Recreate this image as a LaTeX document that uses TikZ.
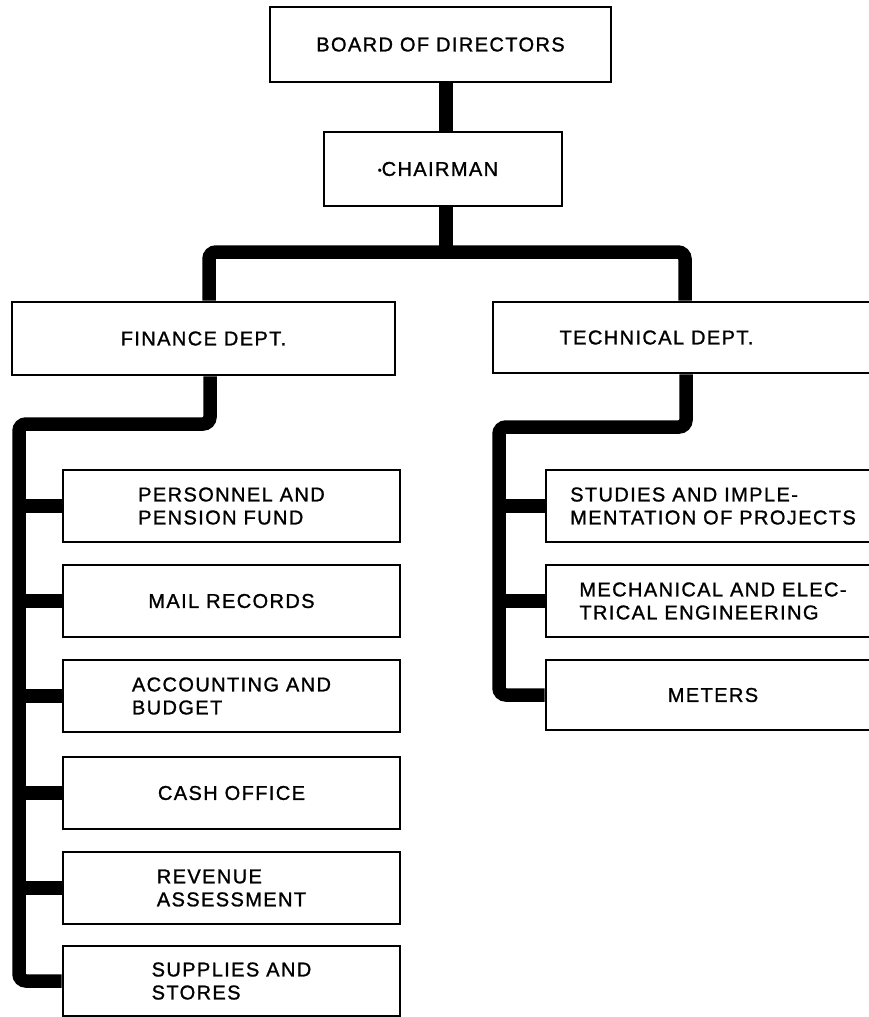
\documentclass[tikz,border=0pt]{standalone}
\usepackage{fontspec}
\setmainfont{Liberation Sans}[LetterSpace=7.0, FakeBold=1.2]
\begin{document}
\begin{tikzpicture}[x=1pt,y=-1pt,
  orgbox/.style={draw, line width=2.8pt, inner sep=0pt, align=left,
    font=\fontsize{20}{23}\selectfont},
  conn/.style={line width=13.5pt, rounded corners=7pt}]
\useasboundingbox (0,0) rectangle (869,1017);
\clip (0,0) rectangle (869,1017);
% top level
\node[orgbox, minimum width=341pt, minimum height=75pt] (board) at (440.5,44.5) {BOARD OF DIRECTORS};
\node[orgbox, minimum width=238pt, minimum height=74pt] (chair) at (443,169) {{\fontsize{11}{11}\selectfont\raisebox{2pt}{•}}CHAIRMAN\hspace*{10pt}};
\node[orgbox, minimum width=383pt, minimum height=73pt] (fin) at (203.5,338.5) {FINANCE DEPT.};
\node[orgbox, minimum width=387pt, minimum height=71pt] (tech) at (686.5,337.5) {TECHNICAL DEPT.\hspace*{60pt}};
% finance sub-units
\node[orgbox, minimum width=337pt, minimum height=72pt] (pers) at (231.5,506) {PERSONNEL AND\\PENSION FUND};
\node[orgbox, minimum width=337pt, minimum height=72pt] (mail) at (231.5,601) {MAIL RECORDS};
\node[orgbox, minimum width=337pt, minimum height=72pt] (acct) at (231.5,696) {ACCOUNTING AND\\BUDGET};
\node[orgbox, minimum width=337pt, minimum height=72pt] (cash) at (231.5,793) {CASH OFFICE};
\node[orgbox, minimum width=337pt, minimum height=72pt] (rev) at (231.5,888) {REVENUE\\ASSESSMENT};
\node[orgbox, minimum width=337pt, minimum height=70pt] (sup) at (231.5,981) {SUPPLIES AND\\STORES};
% technical sub-units
\node[orgbox, minimum width=334pt, minimum height=72pt] (stud) at (713,506) {STUDIES AND IMPLE-\\MENTATION OF PROJECTS};
\node[orgbox, minimum width=334pt, minimum height=72pt] (mech) at (713,601) {MECHANICAL AND ELEC-\\TRICAL ENGINEERING};
\node[orgbox, minimum width=334pt, minimum height=70pt] (met) at (713,695) {METERS};
% connector coordinates
\coordinate (trunk) at (446,0);
\coordinate (barL) at (209,252);
\coordinate (barR) at (685,252);
\coordinate (fdown) at (210,424);
\coordinate (fleft) at (19,424);
\coordinate (tdown) at (686,427);
\coordinate (tleft) at (499,427);
% connectors
\draw[conn] (board.south -| trunk) -- (chair.north -| trunk);
\draw[conn] (chair.south -| trunk) -- (trunk |- barL);
\draw[conn] (fin.north -| barL) -- (barL) -- (barR) -- (tech.north -| barR);
\draw[conn] (fin.south -| fdown) -- (fdown) -- (fleft) -- (fleft |- sup.west) -- (sup.west);
\draw[conn] (fleft |- pers.west) -- (pers.west);
\draw[conn] (fleft |- mail.west) -- (mail.west);
\draw[conn] (fleft |- acct.west) -- (acct.west);
\draw[conn] (fleft |- cash.west) -- (cash.west);
\draw[conn] (fleft |- rev.west) -- (rev.west);
\draw[conn] (tech.south -| tdown) -- (tdown) -- (tleft) -- (tleft |- met.west) -- (met.west);
\draw[conn] (tleft |- stud.west) -- (stud.west);
\draw[conn] (tleft |- mech.west) -- (mech.west);
\end{tikzpicture}
\end{document}
